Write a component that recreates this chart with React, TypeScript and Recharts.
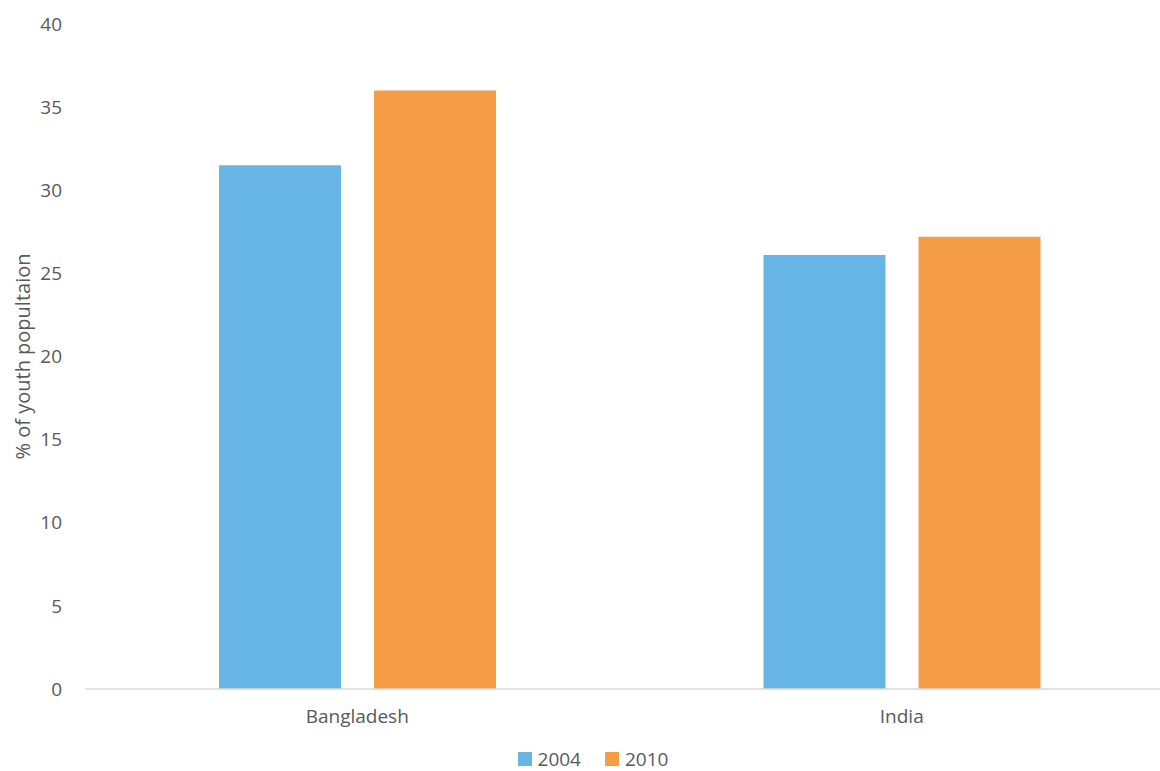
import React from "react";
import { BarChart, Bar, XAxis, YAxis, Legend } from "recharts";

const countries = ["Bangladesh", "India"];
const values2004 = [31.5, 26.1];
const values2010 = [36.0, 27.2];
const yTicks = [0, 5, 10, 15, 20, 25, 30, 35, 40];

const COLOR_2004 = "#67B5E4";
const COLOR_2010 = "#F49C46";
const TEXT = "#595959";
const FONT = "'Open Sans', sans-serif";

const data = countries.map((c, i) => ({
  country: c,
  y2004: values2004[i],
  y2010: values2010[i],
}));

const LegendContent = (props: any) => {
  const { payload } = props;
  return (
    <div style={{ display: "flex", justifyContent: "center", alignItems: "center", height: 24, paddingLeft: 12 }}>
      {(payload || []).map((p: any, i: number) => (
        <div key={i} style={{ display: "flex", alignItems: "center", marginLeft: i ? 24 : 0 }}>
          <span style={{ display: "inline-block", width: 14, height: 14, background: p.color, marginRight: 6 }} />
          <span style={{ fontFamily: FONT, fontSize: 19, color: TEXT, lineHeight: "24px" }}>{p.value}</span>
        </div>
      ))}
    </div>
  );
};

const YTitle = (props: any) => {
  const vb = props.viewBox || {};
  const cy = vb.y + vb.height / 2;
  const cx = 22;
  return (
    <text
      x={cx}
      y={cy}
      transform={`rotate(-90, ${cx}, ${cy})`}
      textAnchor="middle"
      dominantBaseline="central"
      fill={TEXT}
      fontFamily={FONT}
      fontSize={20}
    >
      % of youth popultaion
    </text>
  );
};

export default function App() {
  return (
    <div style={{ position: "absolute", left: 0, top: 0, width: 1160, height: 771, overflow: "hidden", background: "#fff" }}>
      <BarChart
        width={1180}
        height={771}
        data={data}
        margin={{ top: 24, right: 6, left: 0, bottom: 0 }}
        barSize={122}
        barGap={33}
      >
        <XAxis
          dataKey="country"
          tickLine={false}
          axisLine={{ stroke: "#D9D9D9", strokeWidth: 1.5 }}
          tick={{ fill: TEXT, fontFamily: FONT, fontSize: 19 }}
          tickMargin={15}
          height={58}
        />
        <YAxis
          domain={[0, 40]}
          ticks={yTicks}
          interval={0}
          axisLine={false}
          tickLine={false}
          tickMargin={17}
          width={85}
          tick={{ fill: TEXT, fontFamily: FONT, fontSize: 19 }}
          label={<YTitle />}
        />
        <Legend verticalAlign="bottom" content={<LegendContent />} />
        <Bar dataKey="y2004" name="2004" fill={COLOR_2004} isAnimationActive={false} />
        <Bar dataKey="y2010" name="2010" fill={COLOR_2010} isAnimationActive={false} />
      </BarChart>
    </div>
  );
}
